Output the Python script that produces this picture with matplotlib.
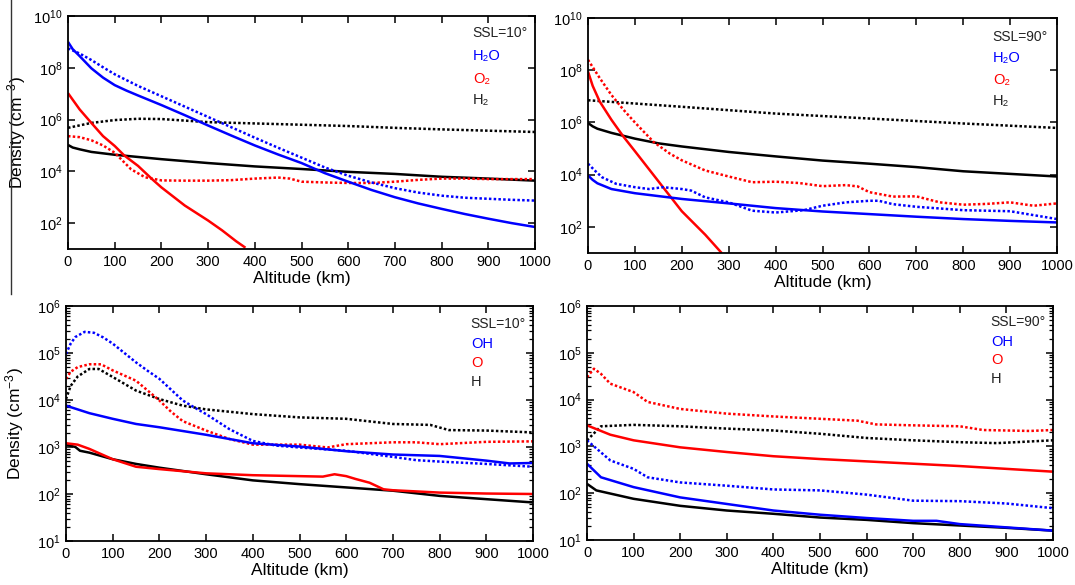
import numpy as np
import matplotlib
matplotlib.use("Agg")
import matplotlib.pyplot as plt
from matplotlib.lines import Line2D
from matplotlib.ticker import LogLocator, FixedLocator, NullFormatter, NullLocator

plt.rcParams['font.family'] = ['Liberation Sans', 'DejaVu Sans']
plt.rcParams['mathtext.default'] = 'regular'

BLUE = '#0000ff'
RED = '#ff0000'
BLACK = '#000000'

# ---------------- Data (log10 of density, cm^-3) ----------------
# Top-left: SSL = 10 deg, molecules
tl_h2o_s_alt = [0, 10, 25, 50, 75, 100, 125, 150, 200, 250, 300, 350, 400, 450, 500, 550, 600, 650, 700, 750, 800, 850, 900, 950, 1000]
tl_h2o_s_log = [9.0, 8.72, 8.45, 7.98, 7.62, 7.33, 7.12, 6.93, 6.56, 6.17, 5.77, 5.38, 5.0, 4.65, 4.32, 3.93, 3.6, 3.28, 3.0, 2.76, 2.55, 2.35, 2.17, 2.0, 1.85]
tl_h2o_d_alt = [0, 25, 50, 75, 100, 150, 200, 250, 300, 350, 400, 450, 500, 550, 600, 650, 700, 750, 800, 850, 900, 950, 1000]
tl_h2o_d_log = [8.75, 8.55, 8.3, 8.02, 7.75, 7.3, 6.9, 6.5, 6.1, 5.7, 5.3, 4.91, 4.53, 4.15, 3.83, 3.57, 3.35, 3.18, 3.06, 2.98, 2.94, 2.9, 2.87]
tl_o2_s_alt = [0, 25, 50, 75, 100, 120, 150, 180, 200, 250, 300, 330, 360, 380]
tl_o2_s_log = [7.02, 6.39, 5.87, 5.36, 4.98, 4.62, 4.21, 3.7, 3.38, 2.68, 2.1, 1.72, 1.3, 1.05]
tl_o2_d_alt = [0, 25, 50, 75, 100, 135, 165, 200, 250, 300, 350, 400, 450, 475, 500, 550, 600, 650, 700, 750, 800, 850, 900, 950, 1000]
tl_o2_d_log = [5.36, 5.32, 5.2, 5.0, 4.72, 4.08, 3.77, 3.65, 3.64, 3.64, 3.66, 3.72, 3.76, 3.72, 3.6, 3.57, 3.55, 3.55, 3.6, 3.67, 3.72, 3.72, 3.7, 3.7, 3.7]
tl_h2_d_alt = [0, 50, 100, 150, 200, 300, 400, 500, 600, 700, 800, 900, 1000]
tl_h2_d_log = [5.68, 5.87, 5.98, 6.03, 6.02, 5.9, 5.85, 5.8, 5.75, 5.68, 5.62, 5.57, 5.52]
tl_h2_s_alt = [0, 10, 25, 50, 100, 200, 300, 400, 500, 600, 700, 800, 900, 1000]
tl_h2_s_log = [5.02, 4.92, 4.85, 4.75, 4.64, 4.47, 4.32, 4.19, 4.09, 3.98, 3.9, 3.79, 3.72, 3.64]

# Top-right: SSL = 90 deg, molecules
tr_h2_d_alt = [0, 200, 400, 600, 800, 1000]
tr_h2_d_log = [6.85, 6.6, 6.34, 6.15, 5.96, 5.79]
tr_h2_s_alt = [0, 10, 20, 50, 100, 150, 200, 300, 400, 500, 600, 700, 800, 900, 1000]
tr_h2_s_log = [5.98, 5.85, 5.76, 5.6, 5.38, 5.2, 5.08, 4.87, 4.7, 4.54, 4.42, 4.29, 4.13, 4.03, 3.93]
tr_o2_s_alt = [0, 10, 25, 50, 75, 100, 150, 200, 250, 285]
tr_o2_s_log = [7.95, 7.4, 6.8, 6.1, 5.47, 4.9, 3.75, 2.6, 1.7, 1.0]
tr_o2_d_alt = [0, 25, 50, 75, 100, 140, 175, 200, 250, 300, 350, 400, 450, 500, 550, 575, 600, 650, 700, 750, 800, 850, 900, 950, 1000]
tr_o2_d_log = [8.4, 7.7, 7.05, 6.5, 6.0, 5.25, 4.8, 4.55, 4.16, 3.93, 3.71, 3.73, 3.68, 3.56, 3.6, 3.55, 3.33, 3.16, 3.17, 2.94, 2.85, 2.88, 2.94, 2.81, 2.9]
tr_h2o_d_alt = [0, 15, 30, 60, 100, 130, 160, 200, 220, 250, 300, 350, 400, 460, 500, 550, 600, 620, 650, 700, 800, 900, 1000]
tr_h2o_d_log = [4.42, 4.15, 3.9, 3.65, 3.52, 3.45, 3.52, 3.45, 3.39, 3.13, 2.94, 2.62, 2.55, 2.64, 2.81, 2.94, 3.0, 3.0, 2.87, 2.77, 2.64, 2.6, 2.3]
tr_h2o_s_alt = [0, 10, 20, 50, 100, 200, 300, 400, 500, 600, 700, 800, 900, 1000]
tr_h2o_s_log = [3.97, 3.8, 3.67, 3.45, 3.29, 3.07, 2.9, 2.72, 2.59, 2.49, 2.39, 2.3, 2.23, 2.17]

# Bottom-left: SSL = 10 deg, radicals/atoms
bl_oh_d_alt = [0, 10, 20, 40, 60, 80, 100, 125, 150, 175, 200, 225, 250, 275, 300, 350, 400, 450, 500, 600, 700, 750, 800, 900, 1000]
bl_oh_d_log = [4.98, 5.2, 5.34, 5.45, 5.43, 5.33, 5.2, 5.0, 4.8, 4.62, 4.45, 4.22, 3.99, 3.84, 3.7, 3.38, 3.13, 3.03, 2.99, 2.92, 2.79, 2.72, 2.69, 2.64, 2.58]
bl_o_d_alt = [0, 10, 25, 50, 75, 100, 125, 150, 175, 200, 225, 250, 275, 300, 350, 400, 450, 500, 560, 600, 700, 750, 800, 900, 1000]
bl_o_d_log = [4.45, 4.6, 4.7, 4.76, 4.76, 4.63, 4.52, 4.41, 4.2, 3.99, 3.75, 3.55, 3.45, 3.35, 3.17, 3.05, 3.05, 3.05, 2.99, 3.06, 3.1, 3.1, 3.06, 3.11, 3.12]
bl_h_d_alt = [0, 10, 25, 50, 70, 100, 150, 200, 250, 300, 400, 500, 600, 700, 780, 820, 900, 1000]
bl_h_d_log = [4.02, 4.3, 4.5, 4.66, 4.66, 4.49, 4.2, 4.02, 3.88, 3.8, 3.7, 3.63, 3.6, 3.49, 3.47, 3.36, 3.35, 3.31]
bl_oh_s_alt = [0, 50, 100, 150, 200, 300, 400, 500, 600, 700, 800, 900, 950, 1000]
bl_oh_s_log = [3.88, 3.72, 3.6, 3.49, 3.42, 3.26, 3.08, 3.01, 2.91, 2.84, 2.81, 2.71, 2.65, 2.66]
bl_o_s_alt = [0, 25, 50, 100, 150, 200, 300, 400, 500, 550, 575, 600, 620, 650, 680, 700, 800, 900, 1000]
bl_o_s_log = [3.08, 3.05, 2.96, 2.74, 2.58, 2.53, 2.44, 2.4, 2.38, 2.37, 2.42, 2.38, 2.32, 2.24, 2.1, 2.08, 2.03, 2.01, 2.0]
bl_h_s_alt = [0, 20, 30, 50, 100, 150, 200, 300, 400, 500, 600, 700, 800, 900, 1000]
bl_h_s_log = [3.05, 3.0, 2.92, 2.88, 2.74, 2.64, 2.56, 2.42, 2.29, 2.21, 2.14, 2.07, 1.96, 1.89, 1.82]

# Bottom-right: SSL = 90 deg, radicals/atoms
br_o_d_alt = [0, 15, 30, 50, 100, 130, 200, 300, 400, 500, 580, 620, 700, 800, 850, 950, 1000]
br_o_d_log = [4.48, 4.66, 4.55, 4.34, 4.16, 3.95, 3.8, 3.7, 3.64, 3.59, 3.55, 3.47, 3.45, 3.43, 3.35, 3.33, 3.35]
br_h_d_alt = [0, 30, 100, 200, 300, 400, 500, 600, 700, 800, 880, 1000]
br_h_d_log = [3.13, 3.43, 3.46, 3.43, 3.38, 3.34, 3.27, 3.18, 3.13, 3.09, 3.07, 3.13]
br_o_s_alt = [0, 50, 100, 200, 300, 400, 500, 600, 700, 800, 900, 1000]
br_o_s_log = [3.45, 3.25, 3.13, 2.98, 2.88, 2.79, 2.73, 2.68, 2.63, 2.58, 2.52, 2.46]
br_oh_d_alt = [0, 50, 100, 130, 200, 300, 400, 500, 600, 700, 800, 900, 1000]
br_oh_d_log = [3.13, 2.7, 2.52, 2.34, 2.23, 2.16, 2.08, 2.06, 1.97, 1.84, 1.83, 1.78, 1.68]
br_oh_s_alt = [0, 30, 100, 200, 300, 400, 500, 600, 700, 750, 800, 900, 1000]
br_oh_s_log = [2.63, 2.34, 2.13, 1.91, 1.77, 1.63, 1.54, 1.47, 1.41, 1.41, 1.34, 1.27, 1.2]
br_h_s_alt = [0, 20, 100, 200, 300, 400, 500, 600, 700, 800, 900, 1000]
br_h_s_log = [2.2, 2.06, 1.88, 1.73, 1.63, 1.56, 1.48, 1.43, 1.36, 1.31, 1.26, 1.2]

x_ticks = [0, 100, 200, 300, 400, 500, 600, 700, 800, 900, 1000]
labels_top = ['H\u2082O', 'O\u2082', 'H\u2082']
labels_bottom = ['OH', 'O', 'H']

# ---------------- Figure ----------------
W, H = 1075, 585
fig = plt.figure(figsize=(W / 100, H / 100), dpi=100)

def px_axes(x0, y0, x1, y1):
    return fig.add_axes([x0 / W, 1 - y1 / H, (x1 - x0) / W, (y1 - y0) / H])

ax_tl = px_axes(68, 16, 535, 249)
ax_tr = px_axes(588, 18, 1057, 253)
ax_bl = px_axes(66, 306, 533, 541)
ax_br = px_axes(587, 306, 1053, 540)

DOT = (0, (1.0, 0.9))
LW = 1.8

def plot_line(ax, alt, logv, color, dotted):
    ax.plot(alt, np.power(10.0, np.asarray(logv)), color=color, lw=LW,
            ls=DOT if dotted else '-', solid_capstyle='butt')

def style(ax, ymin, ymax, top, ylabel, ylab_x):
    ax.set_yscale('log')
    ax.set_xlim(0, 1000)
    ax.set_ylim(10.0 ** ymin, 10.0 ** ymax)
    ax.xaxis.set_major_locator(FixedLocator(x_ticks))
    ax.xaxis.set_minor_locator(NullLocator())
    if top:
        ax.yaxis.set_major_locator(FixedLocator([10.0 ** k for k in range(2, 11, 2)]))
        ax.yaxis.set_minor_locator(NullLocator())
    else:
        ax.yaxis.set_major_locator(LogLocator(base=10, numticks=20))
        ax.yaxis.set_minor_locator(LogLocator(base=10, subs=np.arange(2, 10), numticks=20))
        ax.yaxis.set_minor_formatter(NullFormatter())
    ax.tick_params(which='both', direction='in', top=True, right=True, labelsize=10.5, pad=4)
    ax.tick_params(which='major', length=5, width=1.1)
    ax.tick_params(which='minor', length=3, width=0.9)
    for s in ax.spines.values():
        s.set_linewidth(1.3)
    ax.set_xlabel('Altitude (km)', fontsize=12.5, labelpad=2)
    if ylabel:
        ax.set_ylabel('Density (cm$^{-3}$)', fontsize=12.5)
        ax.yaxis.set_label_coords(ylab_x, 0.5)

# Top-left
plot_line(ax_tl, tl_h2_d_alt, tl_h2_d_log, BLACK, True)
plot_line(ax_tl, tl_h2_s_alt, tl_h2_s_log, BLACK, False)
plot_line(ax_tl, tl_o2_d_alt, tl_o2_d_log, RED, True)
plot_line(ax_tl, tl_o2_s_alt, tl_o2_s_log, RED, False)
plot_line(ax_tl, tl_h2o_d_alt, tl_h2o_d_log, BLUE, True)
plot_line(ax_tl, tl_h2o_s_alt, tl_h2o_s_log, BLUE, False)
style(ax_tl, 1, 10, True, True, -0.085)

# Top-right
plot_line(ax_tr, tr_h2_d_alt, tr_h2_d_log, BLACK, True)
plot_line(ax_tr, tr_h2_s_alt, tr_h2_s_log, BLACK, False)
plot_line(ax_tr, tr_o2_d_alt, tr_o2_d_log, RED, True)
plot_line(ax_tr, tr_o2_s_alt, tr_o2_s_log, RED, False)
plot_line(ax_tr, tr_h2o_d_alt, tr_h2o_d_log, BLUE, True)
plot_line(ax_tr, tr_h2o_s_alt, tr_h2o_s_log, BLUE, False)
style(ax_tr, 1, 10, True, False, None)

# Bottom-left
plot_line(ax_bl, bl_h_d_alt, bl_h_d_log, BLACK, True)
plot_line(ax_bl, bl_o_d_alt, bl_o_d_log, RED, True)
plot_line(ax_bl, bl_oh_d_alt, bl_oh_d_log, BLUE, True)
plot_line(ax_bl, bl_h_s_alt, bl_h_s_log, BLACK, False)
plot_line(ax_bl, bl_o_s_alt, bl_o_s_log, RED, False)
plot_line(ax_bl, bl_oh_s_alt, bl_oh_s_log, BLUE, False)
style(ax_bl, 1, 6, False, True, -0.085)

# Bottom-right
plot_line(ax_br, br_o_d_alt, br_o_d_log, RED, True)
plot_line(ax_br, br_h_d_alt, br_h_d_log, BLACK, True)
plot_line(ax_br, br_oh_d_alt, br_oh_d_log, BLUE, True)
plot_line(ax_br, br_h_s_alt, br_h_s_log, BLACK, False)
plot_line(ax_br, br_oh_s_alt, br_oh_s_log, BLUE, False)
plot_line(ax_br, br_o_s_alt, br_o_s_log, RED, False)
style(ax_br, 1, 6, False, False, None)

# In-panel key text
def key(x, ys, title, labels):
    fig.text(x / W, 1 - ys[0] / H, title, color='#222222', fontsize=10, va='center', ha='left')
    for yy, lab, c in zip(ys[1:], labels, [BLUE, RED, '#222222']):
        fig.text((x + 1) / W, 1 - yy / H, lab, color=c, fontsize=10.5, va='center', ha='left')

key(472, [33, 56, 79, 100], 'SSL=10\u00b0', labels_top)
key(992, [37, 58, 80, 101], 'SSL=90\u00b0', labels_top)
key(470, [324, 344, 363, 382], 'SSL=10\u00b0', labels_bottom)
key(990, [322, 342, 360, 379], 'SSL=90\u00b0', labels_bottom)

# Thin vertical rule at the far left of the upper half
fig.add_artist(Line2D([10.7 / W, 10.7 / W], [1 - 0 / H, 1 - 294 / H], color='#333333', lw=1.0))

fig.savefig('out.png', dpi=100)
